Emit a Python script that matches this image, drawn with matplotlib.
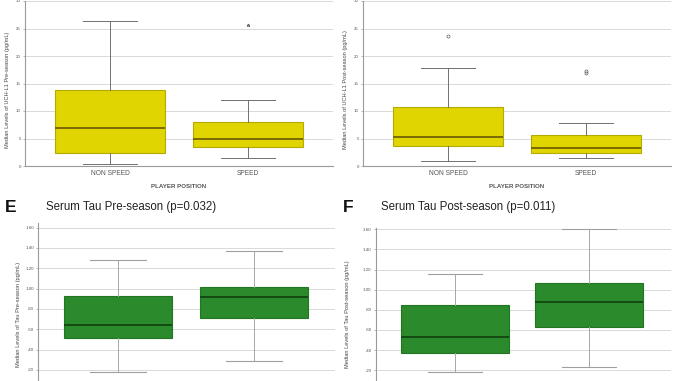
import matplotlib
matplotlib.use("Agg")
import matplotlib.pyplot as plt

plt.rcParams['font.family'] = ['Liberation Sans', 'DejaVu Sans']

# ---- data ----
groups = ["NON SPEED", "SPEED"]

# UCH-L1 pre-season (pg/mL): whislo, q1, med, q3, whishi
uch_pre_whislo = [0.3, 1.4]
uch_pre_q1 = [2.4, 3.5]
uch_pre_med = [6.9, 4.85]
uch_pre_q3 = [13.8, 8.0]
uch_pre_whishi = [26.4, 12.0]
uch_pre_fliers = [[], [25.6]]

# UCH-L1 post-season
uch_post_whislo = [0.85, 1.4]
uch_post_q1 = [3.7, 2.4]
uch_post_med = [5.3, 3.3]
uch_post_q3 = [10.8, 5.7]
uch_post_whishi = [17.8, 7.9]
uch_post_fliers = [[23.7], [17.3, 16.9]]

# Serum Tau pre-season
tau_pre_whislo = [0.183, 0.289]
tau_pre_q1 = [0.517, 0.714]
tau_pre_med = [0.639, 0.921]
tau_pre_q3 = [0.931, 1.019]
tau_pre_whishi = [1.279, 1.368]

# Serum Tau post-season
tau_post_whislo = [0.186, 0.23]
tau_post_q1 = [0.372, 0.632]
tau_post_med = [0.533, 0.874]
tau_post_q3 = [0.853, 1.066]
tau_post_whishi = [1.156, 1.60]

uch_ticks = [0, 5, 10, 15, 20, 25, 30]
tau_ticks = [0.20, 0.40, 0.60, 0.80, 1.00, 1.20, 1.40, 1.60]
tau_ticklabels = [".20", ".40", ".60", ".80", "1.00", "1.20", "1.40", "1.60"]

W, H = 678, 381
fig = plt.figure(figsize=(W / 100, H / 100), dpi=100)
fig.patch.set_facecolor("white")


def px_axes(x0, x1, ytop, ybot):
    return fig.add_axes([x0 / W, (H - ybot) / H, (x1 - x0) / W, (ybot - ytop) / H])


def make_stats(wl, q1, med, q3, wh, fl=None):
    out = []
    for i in range(len(med)):
        out.append(dict(whislo=wl[i], q1=q1[i], med=med[i], q3=q3[i], whishi=wh[i],
                        fliers=(fl[i] if fl else [])))
    return out


def style_axes(ax, ticks, ticklabels, ylim, xlim):
    ax.set_ylim(*ylim)
    ax.set_xlim(*xlim)
    ax.set_yticks(ticks)
    ax.set_yticklabels(ticklabels, fontsize=3.2, color="#555555")
    ax.yaxis.grid(True, color="#d9d9d9", lw=0.7)
    ax.set_axisbelow(True)
    for s in ["top", "right"]:
        ax.spines[s].set_visible(False)
    for s in ["left", "bottom"]:
        ax.spines[s].set_color("#9a9a9a")
        ax.spines[s].set_linewidth(0.8)
    ax.tick_params(axis="y", length=1.5, width=0.5, color="#9a9a9a", pad=1.5)
    ax.tick_params(axis="x", length=0, pad=3)


# ---------------- top panels (UCH-L1) ----------------
yellow = "#e0d500"
yellow_edge = "#b5ab00"
yellow_med = "#6a5800"

for (x0, x1, stats, ylab, marker) in [
    (25, 333, make_stats(uch_pre_whislo, uch_pre_q1, uch_pre_med, uch_pre_q3, uch_pre_whishi, uch_pre_fliers),
     "Median Levels of UCH-L1 Pre-season (pg/mL)", "*"),
    (363, 671, make_stats(uch_post_whislo, uch_post_q1, uch_post_med, uch_post_q3, uch_post_whishi, uch_post_fliers),
     "Median Levels of UCH-L1 Post-season (pg/mL)", "o"),
]:
    ax = px_axes(x0, x1, 1, 166)
    ax.bxp(stats, positions=[0, 1], widths=0.80, capwidths=0.39, patch_artist=True,
           boxprops=dict(facecolor=yellow, edgecolor=yellow_edge, lw=0.8),
           medianprops=dict(color=yellow_med, lw=1.2),
           whiskerprops=dict(color="#707070", lw=0.7),
           capprops=dict(color="#707070", lw=0.7),
           flierprops=dict(marker=marker, markersize=2.2, markerfacecolor="none",
                           markeredgecolor="#606060", markeredgewidth=0.5))
    style_axes(ax, uch_ticks, [str(t) for t in uch_ticks], (0, 30), (-0.616, 1.616))
    ax.set_xticks([0, 1])
    ax.set_xticklabels(groups, fontsize=4.8, color="#555555")
    ax.set_xlabel("PLAYER POSITION", fontsize=4.4, fontweight="bold", color="#555555", labelpad=5)
    ax.set_ylabel(ylab, fontsize=4.1, color="#444444")
    ax.yaxis.set_label_coords(-15 / (x1 - x0), (166 - 90) / 165)

# ---------------- bottom panels (Serum Tau) ----------------
green = "#2b8a2b"
green_edge = "#237523"
green_med = "#0f3f0f"

panels = [
    (38, 335, 223.3, 390.3, (0, 1.643), (-0.588, 1.596),
     make_stats(tau_pre_whislo, tau_pre_q1, tau_pre_med, tau_pre_q3, tau_pre_whishi),
     "Median Levels of Tau Pre-season (pg/mL)", "E", "Serum Tau Pre-season (p=0.032)", 5, 46, 21),
    (375.7, 671, 227.7, 390.4, (0, 1.616), (-0.592, 1.612),
     make_stats(tau_post_whislo, tau_post_q1, tau_post_med, tau_post_q3, tau_post_whishi),
     "Median Levels of Tau Post-season (pg/mL)", "F", "Serum Tau Post-season (p=0.011)", 343, 381, 350),
]

for (x0, x1, yt, yb, ylim, xlim, stats, ylab, letter, title, lx, tx, labx) in panels:
    ax = px_axes(x0, x1, yt, yb)
    ax.bxp(stats, positions=[0, 1], widths=0.80, capwidths=0.41, patch_artist=True,
           boxprops=dict(facecolor=green, edgecolor=green_edge, lw=0.8),
           medianprops=dict(color=green_med, lw=1.2),
           whiskerprops=dict(color="#a8a8a8", lw=0.7),
           capprops=dict(color="#a0a0a0", lw=0.8))
    style_axes(ax, tau_ticks, tau_ticklabels, ylim, xlim)
    ax.set_xticks([])
    ax.set_ylabel(ylab, fontsize=4.1, color="#444444")
    ax.yaxis.set_label_coords(-(x0 - labx) / (x1 - x0), (yb - 314) / (yb - yt))
    fig.text(lx / W, 1 - 208 / H, letter, fontsize=12.5, fontweight="bold",
             ha="left", va="center", color="#111111")
    fig.text(tx / W, 1 - 207 / H, title, fontsize=8.3, ha="left", va="center", color="#222222")

fig.savefig("out.png", dpi=100, facecolor="white")
